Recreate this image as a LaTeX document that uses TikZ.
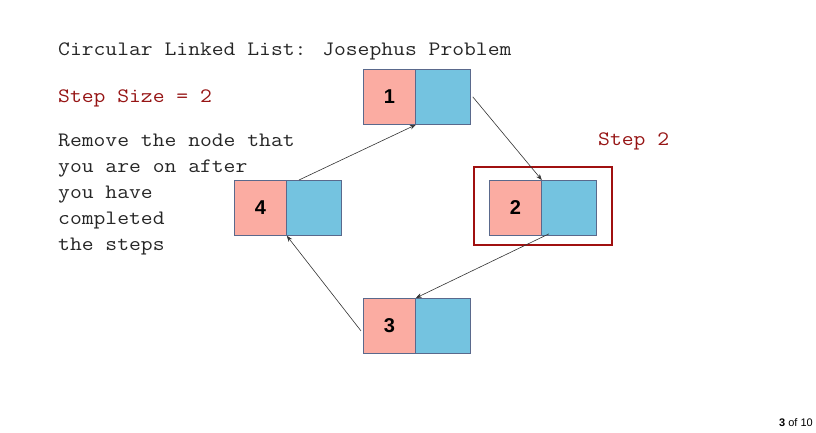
\documentclass[tikz,border=0pt]{standalone}
\usepackage{fontspec}
\newfontfamily\cour{Latin Modern Mono}[FakeStretch=1.12]
\newfontfamily\arialfont{Liberation Sans}
\usetikzlibrary{arrows.meta}
\definecolor{pinkc}{RGB}{251,172,162}
\definecolor{bluec}{RGB}{116,195,224}
\definecolor{edgec}{RGB}{90,105,140}
\definecolor{redc}{RGB}{160,16,16}
\definecolor{txtred}{RGB}{150,20,20}
\begin{document}
\begin{tikzpicture}[x=1pt,y=-1pt,
  pinkpart/.style={draw=edgec,fill=pinkc,line width=0.8pt,minimum width=52pt,minimum height=55pt,inner sep=0pt,anchor=north west,
    font=\arialfont\bfseries\fontsize{20}{22}\selectfont},
  bluepart/.style={draw=edgec,fill=bluec,line width=0.8pt,minimum width=55pt,minimum height=55pt,inner sep=0pt,anchor=north west},
  link/.style={draw=black!80,line width=0.6pt,-{Stealth[length=6pt,width=4.5pt]}},
  lbl/.style={anchor=base west,inner sep=0pt,font=\cour\fontsize{20.5}{26}\selectfont}
]
\useasboundingbox (0,0) rectangle (816,433);
% list nodes
\node[pinkpart] (n1a) at (363,69) {1};
\node[bluepart] (n1b) at (415,69) {};
\node[pinkpart] (n2a) at (489,180) {2};
\node[bluepart] (n2b) at (541,180) {};
\node[pinkpart] (n3a) at (363,298) {3};
\node[bluepart] (n3b) at (415,298) {};
\node[pinkpart] (n4a) at (234,180) {4};
\node[bluepart] (n4b) at (286,180) {};
% highlight box
\node[draw=redc,line width=2pt,minimum width=138pt,minimum height=78pt,inner sep=0pt,anchor=north west] (hl) at (473,166) {};
% texts
\node[lbl,text=black!85] (title) at (58,56) {Circular Linked List: Josephus Problem};
\node[lbl,text=txtred] (stepsize) at (58,103) {Step Size = 2};
\node[lbl,text=txtred] (step2) at (598,146) {Step 2};
\node[lbl,align=left,text=black!85] (desc) at (58,250)
  {Remove the node that\\you are on after\\you have\\completed\\the steps};
\node[anchor=base east,inner sep=0pt,font=\arialfont\fontsize{11}{13}\selectfont] (page) at (813,426) {\textbf{3} of 10};
% connectors
\coordinate (s1) at ([xshift=2pt]n1b.east);
\draw[link] (s1) -- (n2a.north east);
\coordinate (s2) at ([xshift=8pt,yshift=2pt]n2b.south west);
\draw[link] (s2) -- (n3a.north east);
\coordinate (s3) at ([xshift=-2pt,yshift=-5pt]n3a.west);
\draw[link] (s3) -- (n4a.south east);
\coordinate (s4) at ([xshift=13pt]n4b.north west);
\draw[link] (s4) -- (n1a.south east);
\end{tikzpicture}
\end{document}
